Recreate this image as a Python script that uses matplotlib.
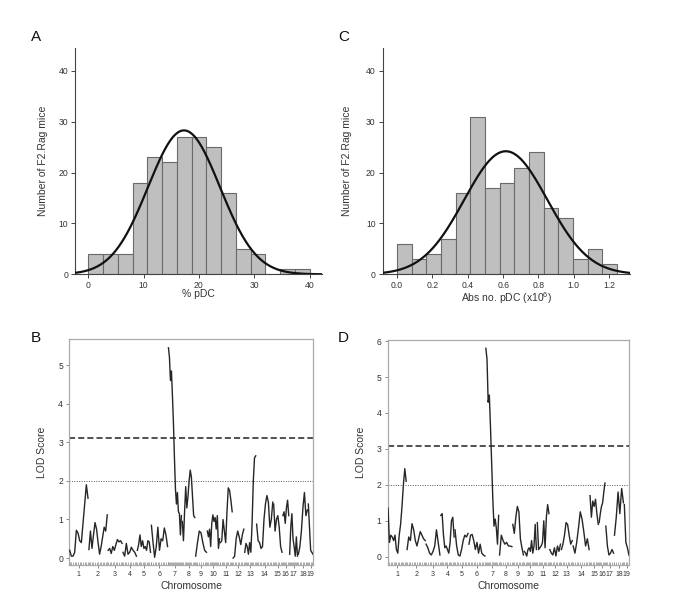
import numpy as np
import matplotlib
matplotlib.use("Agg")
import matplotlib.pyplot as plt

plt.rcParams['font.family'] = ['Liberation Sans', 'DejaVu Sans']
plt.rcParams['mathtext.fontset'] = 'custom'
plt.rcParams['mathtext.rm'] = 'Liberation Sans'

# ---------------- Data: histograms ----------------
pdc_pct_bin_start = 0.0
pdc_pct_bin_width = 40.0 / 15
pdc_pct_counts = [4, 4, 4, 18, 23, 22, 27, 27, 25, 16, 5, 4, 0, 1, 1]
pdc_pct_fit = dict(peak=28.3, mean=17.3, sd=6.5)

pdc_abs_bin_start = 0.0
pdc_abs_bin_width = 0.083
pdc_abs_counts = [6, 3, 4, 7, 16, 31, 17, 18, 21, 24, 13, 11, 3, 5, 2]
pdc_abs_fit = dict(peak=24.2, mean=0.615, sd=0.235)

# ---------------- Data: genome scans ----------------
chromosomes = [str(i) for i in range(1, 20)]
chrom_lengths = [75, 75, 57, 55, 54, 66, 53, 51, 44, 50, 48, 44, 45, 66, 34, 24, 32, 37, 19]
chrom_gap = 3.7

lod_pct = [
    [0.2, 0.05, 0.05, 0.15, 0.72, 0.65, 0.45, 0.4, 0.9, 1.4, 1.9, 1.55],
    [0.22, 0.7, 0.25, 0.6, 0.92, 0.75, 0.4, 0.1, 0.3, 0.55, 0.8, 0.7, 1.12],
    [0.2, 0.25, 0.12, 0.3, 0.2, 0.35, 0.48, 0.42, 0.45, 0.38],
    [0.15, 0.05, 0.38, 0.1, 0.15, 0.28, 0.2, 0.15, 0.05],
    [0.2, 0.35, 0.6, 0.3, 0.45, 0.25, 0.3, 0.2, 0.45, 0.42, 0.15],
    [0.85, 0.4, 0.02, 0.3, 0.8, 0.2, 0.5, 0.45, 0.78, 0.6, 0.3],
    [5.45, 5.2, 4.6, 4.85, 4.2, 3.5, 2.6, 1.8, 1.4, 1.7, 1.2, 1.15, 0.6, 1.1],
    [0.95, 0.45, 1.2, 1.85, 1.3, 1.6, 2.0, 2.28, 2.1, 1.6, 1.1, 1.05],
    [0.05, 0.4, 0.7, 0.65, 0.4, 0.2, 0.15],
    [0.7, 0.55, 0.75, 0.3, 0.9, 1.12, 0.95, 1.05, 0.75, 1.1, 0.25, 0.5],
    [0.4, 0.45, 1.0, 0.7, 0.4, 1.2, 1.82, 1.75, 1.5, 1.2],
    [0.0, 0.05, 0.5, 0.7, 0.55, 0.35, 0.6, 0.75],
    [0.15, 0.38, 0.3, 0.1, 0.4, 0.15, 0.9, 2.0, 2.6, 2.65],
    [0.88, 0.45, 0.4, 0.25, 0.3, 1.0, 1.4, 1.62, 1.45, 0.8, 1.0, 1.45],
    [1.4, 0.7, 1.0, 1.1, 0.8, 0.3, 0.15],
    [1.1, 1.2, 0.9, 1.3, 1.5, 1.1],
    [0.1, 0.8, 1.15, 0.5, 0.3, 0.05, 0.55, 0.05],
    [0.1, 0.3, 0.7, 1.3, 1.7, 1.1, 1.25],
    [1.4, 0.8, 0.2, 0.15, 0.1],
]
lod_abs = [
    [1.35, 0.4, 0.6, 0.55, 0.45, 0.6, 0.2, 0.1, 0.6, 0.9, 1.4, 2.0, 2.45, 2.1],
    [0.2, 0.55, 0.45, 0.92, 0.75, 0.45, 0.3, 0.5, 0.7, 0.6, 0.5, 0.45],
    [0.35, 0.25, 0.1, 0.05, 0.15, 0.3, 0.75, 0.4, 0.05],
    [1.15, 1.2, 0.6, 0.25, 0.3, 0.2, 0.1, 0.4, 1.0, 1.1, 0.55],
    [0.75, 0.3, 0.05, 0.02, 0.2, 0.45, 0.6, 0.55, 0.65],
    [0.35, 0.6, 0.62, 0.45, 0.2, 0.4, 0.1, 0.35, 0.1, 0.05, 0.02],
    [5.8, 5.5, 4.3, 4.5, 3.6, 2.6, 1.6, 0.85, 1.05, 0.8, 0.35, 1.15],
    [0.05, 0.6, 0.45, 0.35, 0.4, 0.3, 0.3, 0.28],
    [0.9, 0.65, 1.1, 1.4, 1.25, 0.5, 0.25, 0.05],
    [0.15, 0.1, 0.02, 0.2, 0.25, 0.15, 0.45, 0.1, 0.3, 0.9, 0.2],
    [0.95, 0.2, 0.25, 0.3, 0.4, 1.0, 0.25, 1.1, 1.45, 1.2],
    [0.2, 0.1, 0.05, 0.25, 0.02, 0.3, 0.15, 0.35],
    [0.2, 0.35, 0.6, 0.95, 0.9, 0.6, 0.35, 0.45],
    [0.3, 0.1, 0.4, 0.8, 1.25, 1.05, 0.7, 0.3, 0.5, 0.2],
    [1.7, 1.1, 1.55, 1.4, 1.6, 1.2, 0.9],
    [0.95, 1.2, 1.4, 1.5, 1.8, 2.05],
    [0.85, 0.3, 0.05, 0.1, 0.2, 0.1],
    [0.6, 1.1, 1.8, 1.2, 1.9, 1.5],
    [1.45, 0.4, 0.25, 0.05],
]
thr_pct = dict(sig=3.10, sugg=2.01)
thr_abs = dict(sig=3.07, sugg=2.01)

# ---------------- Figure ----------------
fig = plt.figure(figsize=(6.87, 6.0), dpi=100)
axA = fig.add_axes([0.1092, 0.5428, 0.3591, 0.3772])
axC = fig.add_axes([0.557, 0.5428, 0.36, 0.3772])
axB = fig.add_axes([0.1009, 0.0583, 0.3552, 0.3762])
axD = fig.add_axes([0.5643, 0.0583, 0.3517, 0.375])

txt = '#333333'
bar_face = '#bfbfbf'
bar_edge = '#6a6a6a'


def hist_panel(ax, start, width, counts, fit, xlim, xticks, xticklabels, xlabel, lx, ly):
    counts = np.asarray(counts)
    lefts = start + width * np.arange(len(counts))
    ax.bar(lefts, counts, width=width, align='edge', color=bar_face,
           edgecolor=bar_edge, linewidth=0.8, zorder=2)
    xs = np.linspace(xlim[0], xlim[1], 400)
    ys = fit['peak'] * np.exp(-0.5 * ((xs - fit['mean']) / fit['sd']) ** 2)
    ax.plot(xs, ys, color='#111111', lw=1.6, zorder=3)
    ax.set_xlim(*xlim)
    ax.set_ylim(0, 44.5)
    ax.set_xticks(xticks)
    ax.set_xticklabels(xticklabels)
    ax.set_yticks([0, 10, 20, 30, 40])
    for s in ['top', 'right']:
        ax.spines[s].set_visible(False)
    for s in ['left', 'bottom']:
        ax.spines[s].set_color('#444444')
        ax.spines[s].set_linewidth(0.8)
    ax.tick_params(axis='both', direction='out', length=3, width=0.7,
                   colors='#444444', labelsize=6.2, labelcolor=txt, pad=2)
    ax.set_ylabel('Number of F2.Rag mice', fontsize=7.5, color=txt)
    ax.set_xlabel(xlabel, fontsize=7.5, color=txt)
    ax.yaxis.set_label_coords(lx, 0.5)
    ax.xaxis.set_label_coords(0.5, ly)


hist_panel(axA, pdc_pct_bin_start, pdc_pct_bin_width, pdc_pct_counts, pdc_pct_fit,
           (-2.4, 42.2), [0, 10, 20, 30, 40], ['0', '10', '20', '30', '40'],
           '% pDC', -0.11, -0.065)
hist_panel(axC, pdc_abs_bin_start, pdc_abs_bin_width, pdc_abs_counts, pdc_abs_fit,
           (-0.082, 1.318), [0, 0.2, 0.4, 0.6, 0.8, 1.0, 1.2],
           ['0.0', '0.2', '0.4', '0.6', '0.8', '1.0', '1.2'],
           r'Abs no. pDC (x10$^{\mathregular{6}}$)', -0.125, -0.07)


def scan_panel(ax, lods, thr, ylim, yticks, lx):
    pos = 0.0
    centers = []
    for length, vals in zip(chrom_lengths, lods):
        xs = np.linspace(pos, pos + length, len(vals))
        ax.plot(xs, vals, color='#262626', lw=1.0, zorder=3)
        ax.vlines(xs, ylim[0], ylim[0] + 0.09, color='#888888', lw=0.5, zorder=2)
        centers.append(pos + length / 2)
        pos += length + chrom_gap
    total = pos - chrom_gap
    ax.set_xlim(-1.5, total + 1.5)
    ax.set_ylim(*ylim)
    ax.axhline(thr['sig'], color='#222222', lw=1.1, ls=(0, (4, 2)), zorder=1)
    ax.axhline(thr['sugg'], color='#555555', lw=0.7, ls=(0, (1, 1.5)), zorder=1)
    ax.set_xticks(centers)
    ax.set_xticklabels(chromosomes)
    ax.set_yticks(yticks)
    for s in ax.spines.values():
        s.set_color('#aaaaaa')
        s.set_linewidth(0.9)
    ax.tick_params(axis='both', direction='out', length=2.5, width=0.6,
                   colors='#777777', labelcolor=txt, pad=2)
    ax.tick_params(axis='y', labelsize=6.2)
    ax.tick_params(axis='x', labelsize=5.0)
    ax.set_ylabel('LOD Score', fontsize=7.5, color=txt)
    ax.set_xlabel('Chromosome', fontsize=7.5, color=txt)
    ax.yaxis.set_label_coords(lx, 0.5)
    ax.xaxis.set_label_coords(0.5, -0.07)


scan_panel(axB, lod_pct, thr_pct, (-0.18, 5.67), [0, 1, 2, 3, 4, 5], -0.09)
scan_panel(axD, lod_abs, thr_abs, (-0.23, 6.03), [0, 1, 2, 3, 4, 5, 6], -0.09)

for letter, x, y in [('A', 36, 37), ('C', 344, 37), ('B', 36, 338), ('D', 343, 338)]:
    fig.text(x / 687, 1 - y / 600, letter, fontsize=11, ha='center', va='center', color='#111111')

fig.savefig('out.png', dpi=100, facecolor='white')
